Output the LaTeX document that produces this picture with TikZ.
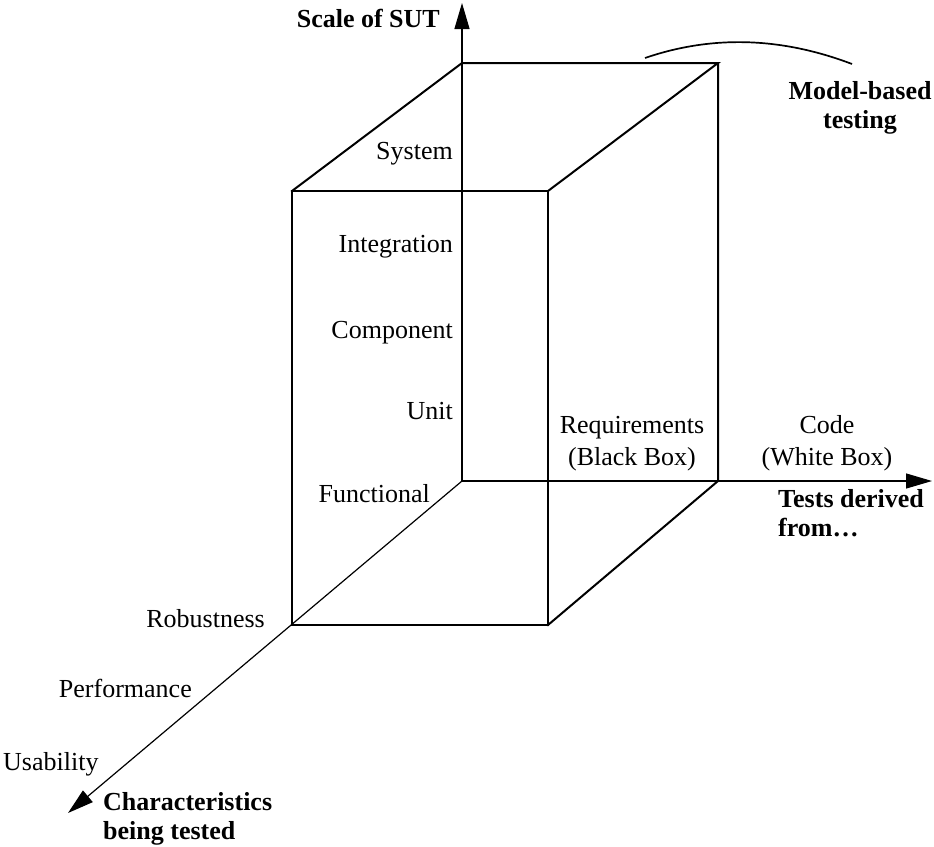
\documentclass[tikz,border=0pt]{standalone}
\usepackage{fontspec}
\setmainfont{Liberation Serif}
\usetikzlibrary{arrows.meta}
\begin{document}
\begin{tikzpicture}[x=1pt,y=-1pt,
  edge/.style={line width=2pt, line join=miter, line cap=rect},
  axis/.style={line width=1.2pt, -{Triangle[length=26pt,width=15pt]}},
  lbl/.style={font=\fontsize{26}{32}\selectfont, inner sep=0pt},
  ttl/.style={font=\fontsize{26}{29}\selectfont\bfseries, inner sep=0pt},
]
\useasboundingbox (0,0) rectangle (934,846);

% cube corners (back face / front face)
\coordinate (btl) at (462,63);
\coordinate (btr) at (718,63);
\coordinate (bbl) at (462,481);
\coordinate (bbr) at (718,481);
\coordinate (ftl) at (292,191);
\coordinate (ftr) at (548,191);
\coordinate (fbl) at (292,625);
\coordinate (fbr) at (548,625);

% axis end points
\coordinate (ytip) at (462,3);
\coordinate (xtip) at (932,481);
\coordinate (ztip) at (68,813);

% axes (thin, through the hidden edges)
\draw[axis] (bbl) -- (ytip);
\draw[axis] (bbl) -- (xtip);
\draw[axis] (bbl) -- (ztip);

% visible cube edges
\draw[edge] (ftl) rectangle (fbr);
\draw[edge] (ftl) -- (btl) -- (btr) -- (ftr);
\draw[edge] (btr) -- (bbr) -- (fbr);

% arc over the model-based region
\coordinate (arcA) at (645,58);
\coordinate (arcB) at (852,64);
\draw[line width=1.7pt] (arcA) .. controls (712,35) and (781,37) .. (arcB);

% axis titles (multi-line nodes are placed by the baseline of their last line)
\node[ttl, anchor=base east] (tsut) at (440,27) {Scale of SUT};
\node[ttl, align=center, anchor=base] (tmbt) at (860,128) {Model-based\\testing};
\node[ttl, align=left, anchor=base west] (tder) at (778,536) {Tests derived\\from…};
\node[ttl, align=left, anchor=base west] (tchr) at (103,839) {Characteristics\\being tested};

% scale of SUT
\node[lbl, anchor=base east] (lsys) at (453,159) {System};
\node[lbl, anchor=base east] (lint) at (453,252) {Integration};
\node[lbl, anchor=base east] (lcmp) at (453,338) {Component};
\node[lbl, anchor=base east] (lunt) at (453,419) {Unit};

% characteristics
\node[lbl, anchor=base east] (lfun) at (430,502) {Functional};
\node[lbl, anchor=base east] (lrob) at (265,627) {Robustness};
\node[lbl, anchor=base east] (lper) at (192,697) {Performance};
\node[lbl, anchor=base west] (lusa) at (3,770) {Usability};

% test basis
\node[lbl, align=center, anchor=base] (lreq) at (632,465) {Requirements\\(Black Box)};
\node[lbl, align=center, anchor=base] (lcod) at (827,465) {Code\\(White Box)};
\end{tikzpicture}
\end{document}
